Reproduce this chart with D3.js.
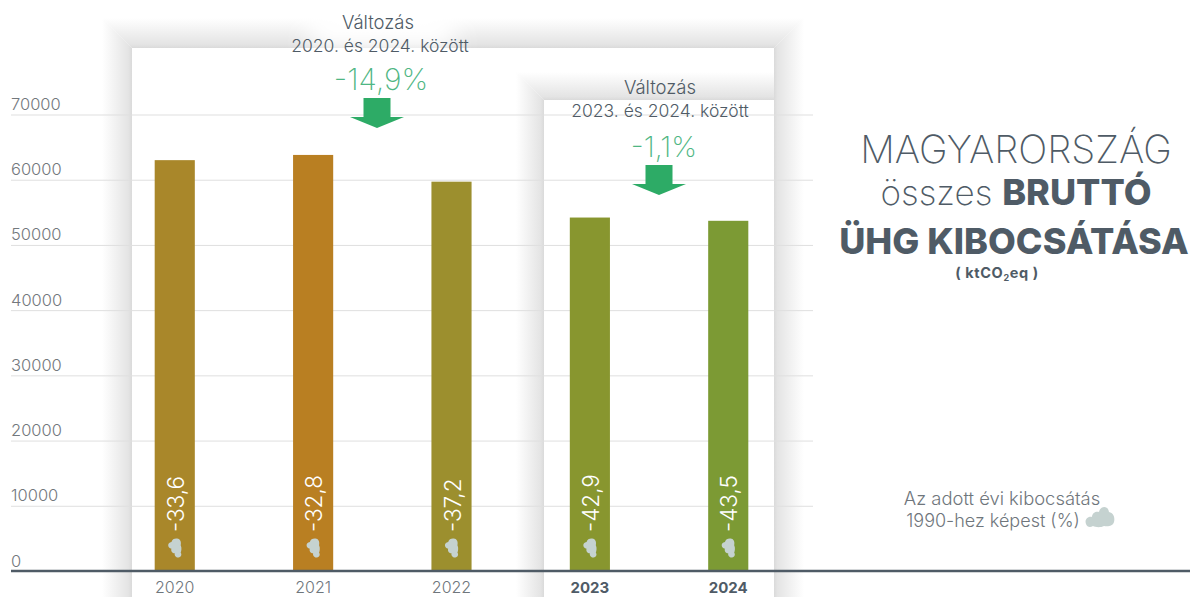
<!DOCTYPE html>
<html>
<head>
<meta charset="utf-8">
<script src="https://cdnjs.cloudflare.com/ajax/libs/d3/7.8.5/d3.min.js"></script>
<style>
	html, body { margin: 0; padding: 0; background: #fff; }
	svg { display: block; font-family: Inter, "Open Sans", sans-serif; }
</style>
</head>
<body>
<svg width="1190" height="597"></svg>
<script>
const years = ["2020", "2021", "2022", "2023", "2024"];
const emissions = [63000, 63800, 59700, 54200, 53700];
const change_1990 = ["-33,6", "-32,8", "-37,2", "-42,9", "-43,5"];
const bar_colors = ["#a9872a", "#b97f22", "#9c8f2e", "#88962f", "#7c9a34"];
const bold_years = ["2023", "2024"];
const y_ticks = [0, 10000, 20000, 30000, 40000, 50000, 60000, 70000];

const text_dark = "#4f5b66";
const text_grey = "#6f767c";
const green_text = "#4fb683";
const green_arrow = "#2dab66";
const cloud_color = "#c5d2d0";

let svg = d3.select("svg");
let defs = svg.append("defs");

let x = d3.scaleBand()
	.domain(years)
	.range([85.5, 817.5])
	.paddingInner(0.71)
	.paddingOuter(0.5);

let y = d3.scaleLinear()
	.domain([0, 70000])
	.range([571, 114.5]);

// fading shadow bands, mitred at the corners like the original frames
function add_gradient(id, x1, y1, x2, y2) {
	let g = defs.append("linearGradient")
		.attr("id", id)
		.attr("x1", x1).attr("y1", y1)
		.attr("x2", x2).attr("y2", y2);
	g.append("stop").attr("offset", 0).attr("stop-color", "#dadada");
	g.append("stop").attr("offset", 0.12).attr("stop-color", "#e4e4e4");
	g.append("stop").attr("offset", 1).attr("stop-color", "#ffffff");
}
add_gradient("fade_left", 1, 0, 0, 0);
add_gradient("fade_right", 0, 0, 1, 0);
add_gradient("fade_top", 0, 1, 0, 0);

function draw_frame(left, right, top, bottom, depth, has_right) {
	let g = svg.append("g");
	let top_end = has_right ? right + depth : right;
	g.append("polygon")
		.attr("points", [[left, top], [left - depth, top - depth], [left - depth, bottom], [left, bottom]].join(" "))
		.attr("fill", "url(#fade_left)");
	g.append("polygon")
		.attr("points", [[left, top], [left - depth, top - depth], [top_end, top - depth], [right, top]].join(" "))
		.attr("fill", "url(#fade_top)");
	if (has_right) {
		g.append("polygon")
			.attr("points", [[right, top], [right + depth, top - depth], [right + depth, bottom], [right, bottom]].join(" "))
			.attr("fill", "url(#fade_right)");
	}
	g.append("rect")
		.attr("x", left)
		.attr("y", top)
		.attr("width", right - left)
		.attr("height", bottom - top)
		.attr("fill", "#fff");
}

draw_frame(132, 774, 48, 597, 30, true);

// white glow behind the heading that sits on the first frame
defs.append("filter").attr("id", "soft")
	.attr("x", "-30%").attr("y", "-60%").attr("width", "160%").attr("height", "220%")
	.append("feGaussianBlur").attr("stdDeviation", 12);
svg.append("rect")
	.attr("x", 310).attr("y", 6).attr("width", 145).attr("height", 42)
	.attr("fill", "#fff")
	.attr("filter", "url(#soft)");

draw_frame(544, 774, 100, 597, 28, false);

// y axis, gridlines come from the tick lines
let y_axis = svg.append("g")
	.attr("transform", "translate(813,0)")
	.call(d3.axisLeft(y).tickValues(y_ticks).tickSize(802).tickFormat(d3.format("d")));
y_axis.select(".domain").remove();
y_axis.selectAll("line").attr("stroke", "#dfdfdf");
y_axis.selectAll("text")
	.attr("x", -802)
	.attr("dy", -5)
	.attr("text-anchor", "start")
	.attr("fill", "#73787d")
	.style("font-family", "Inter, sans-serif")
	.style("font-size", "16.5px")
	.style("font-weight", 300);

svg.selectAll(".bar")
	.data(years)
	.enter()
	.append("rect")
	.attr("class", "bar")
	.attr("x", function(d) { return x(d); })
	.attr("y", function(d, i) { return y(emissions[i]); })
	.attr("width", x.bandwidth())
	.attr("height", function(d, i) { return y(0) - y(emissions[i]); })
	.attr("fill", function(d, i) { return bar_colors[i]; });

// baseline
svg.append("line")
	.attr("x1", 11).attr("x2", 1190)
	.attr("y1", y(0)).attr("y2", y(0))
	.attr("stroke", text_dark)
	.attr("stroke-width", 2.5);

let x_axis = svg.append("g")
	.attr("transform", "translate(0," + y(0) + ")")
	.call(d3.axisBottom(x).tickSize(0).tickPadding(11));
x_axis.select(".domain").remove();
x_axis.selectAll("text")
	.attr("fill", function(d) { return bold_years.includes(d) ? text_dark : text_grey; })
	.style("font-family", "Inter, sans-serif")
	.style("font-size", function(d) { return bold_years.includes(d) ? "15px" : "16px"; })
	.style("font-weight", function(d) { return bold_years.includes(d) ? 700 : 300; });

// cloud drawn at 1:1 around its centre, 28 wide
const cloud_path = "M-14 7 C-16 2 -11 -1 -8 0 C-8 -5 -3 -6 -1 -5 C0 -11 8 -12 9 -5 C14 -4 15 1 14 5 C13 9 8 10 4 9 C0 11 -5 10 -7 9 C-10 11 -13 10 -14 7 Z";

let value_labels = svg.selectAll(".value")
	.data(years)
	.enter()
	.append("g")
	.attr("class", "value")
	.attr("transform", function(d) { return "translate(" + (x(d) + x.bandwidth() / 2) + ",0)"; });
value_labels.append("path")
	.attr("d", cloud_path)
	.attr("transform", "translate(0,548) rotate(-90) scale(0.66)")
	.attr("fill", cloud_color);
value_labels.append("text")
	.text(function(d, i) { return change_1990[i]; })
	.attr("transform", "translate(9,532) rotate(-90)")
	.attr("fill", "#fff")
	.style("font-size", "22.5px")
	.style("font-weight", 300);

function text_at(cx, base, str, size, weight, color, anchor) {
	return svg.append("text")
		.attr("x", cx)
		.attr("y", base)
		.attr("text-anchor", anchor || "middle")
		.attr("fill", color)
		.style("font-size", size + "px")
		.style("font-weight", weight)
		.text(str);
}

function draw_arrow(cx, top) {
	let stem = 13.5, head = 27, neck = 19, tip = 30;
	svg.append("path")
		.attr("d", d3.line()([
			[cx - stem, top], [cx + stem, top], [cx + stem, top + neck],
			[cx + head, top + neck], [cx, top + tip], [cx - head, top + neck],
			[cx - stem, top + neck]
		]) + "Z")
		.attr("fill", green_arrow);
}

text_at(378, 29, "Változás", 18.5, 300, text_dark);
text_at(380, 52, "2020. és 2024. között", 17.5, 300, text_dark);
text_at(381, 90, "-14,9%", 30, 200, green_text);
draw_arrow(377, 98);

text_at(660, 94, "Változás", 18.5, 300, text_dark);
text_at(660, 117, "2023. és 2024. között", 17.5, 300, text_dark);
text_at(664, 157, "-1,1%", 29, 200, green_text);
draw_arrow(659, 165);

// title block on the right
text_at(1016, 163, "MAGYARORSZÁG", 38.5, 200, text_dark);
let line2 = text_at(1016, 205, "összes ", 35, 200, text_dark);
line2.append("tspan").style("font-weight", 800).style("font-size", "36px").text("BRUTTÓ");
text_at(1014, 254, "ÜHG KIBOCSÁTÁSA", 36, 800, text_dark);
let unit = text_at(997, 278, "( ktCO", 14.5, 700, text_dark).style("letter-spacing", "0.6px");
unit.append("tspan").attr("dy", 3).style("font-size", "9px").text("2");
unit.append("tspan").attr("dy", -3).text("eq )");

// legend
text_at(1002, 505, "Az adott évi kibocsátás", 18.4, 300, text_grey);
text_at(993, 527, "1990-hez képest (%)", 18, 300, text_grey);
svg.append("path")
	.attr("d", cloud_path)
	.attr("transform", "translate(1100,517)")
	.attr("fill", cloud_color);
</script>
</body>
</html>
